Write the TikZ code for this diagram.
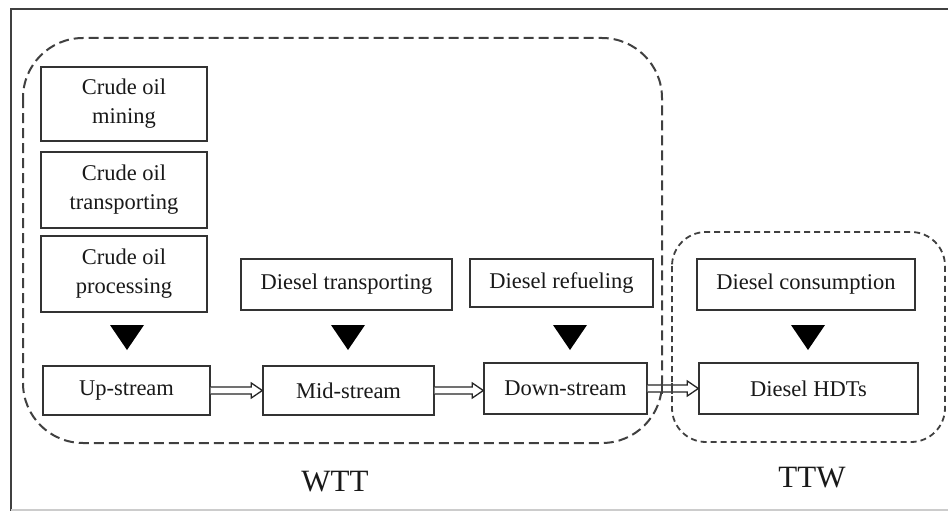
\documentclass[tikz,border=0pt]{standalone}
\usepackage{fontspec}
\setmainfont{Liberation Serif}
\usetikzlibrary{calc}
\newcommand\hollowarrow[2]{%
  \path (#1) coordinate (ha-s) (#1 -| #2) coordinate (ha-e);
  \draw[harrow] ($(ha-s)+(0,-3.5)$) -- ($(ha-e)+(-11,-3.5)$) -- ($(ha-e)+(-11,-7.5)$)
    -- (ha-e) -- ($(ha-e)+(-11,7.5)$) -- ($(ha-e)+(-11,3.5)$) -- ($(ha-s)+(0,3.5)$);
}
\begin{document}
\begin{tikzpicture}[x=1pt,y=-1pt,
  box/.style={draw=black!80, line width=1.4pt, fill=white, align=center, inner sep=0pt,
    font=\fontsize{22.5}{29}\selectfont, text=black!90},
  harrow/.style={draw=black!85, fill=white, line width=1.3pt, line join=miter},
  tri/.style={fill=black},
  wttline/.style={draw=black!75, line width=2pt, dash pattern=on 10pt off 5pt, rounded corners=60pt},
  ttwline/.style={draw=black!75, line width=1.8pt, dash pattern=on 6pt off 4pt, rounded corners=34pt},
  lab/.style={font=\fontsize{31}{33}\selectfont, text=black!90}]
\useasboundingbox (0,0) rectangle (948,511);
\fill[white] (0,0) rectangle (948,511);
% frame
\draw[black!75, line width=2.2pt] (11,511) -- (11,9) -- (948,9);
\draw[black!20, line width=1.2pt] (11,510) -- (948,510);
% group outlines
\draw[wttline] (23,38) rectangle (662,443);
\draw[ttwline] (672,232) rectangle (945,442);
% boxes
\node[box, minimum width=166pt, minimum height=74pt] (mining) at (124,104) {Crude oil\\mining};
\node[box, minimum width=166pt, minimum height=76pt] (ctrans) at (124,190) {Crude oil\\transporting};
\node[box, minimum width=166pt, minimum height=76pt] (proc) at (124,274) {Crude oil\\processing};
\node[box, minimum width=211pt, minimum height=51pt] (dtrans) at (346.5,284.5) {Diesel transporting};
\node[box, minimum width=183pt, minimum height=48pt] (drefuel) at (561.5,283) {Diesel refueling};
\node[box, minimum width=218pt, minimum height=51pt] (dcons) at (806,284.5) {Diesel consumption};
\node[box, minimum width=167pt, minimum height=49pt] (up) at (126.5,390.5) {Up-stream};
\node[box, minimum width=171pt, minimum height=49pt] (mid) at (348.5,390.5) {Mid-stream};
\node[box, minimum width=163pt, minimum height=51pt] (down) at (565.5,388.5) {Down-stream};
\node[box, minimum width=219pt, minimum height=51pt] (hdt) at (808.5,388.5) {Diesel HDTs};
% triangles
\foreach \cx in {127,348,570,808}{
  \fill[tri] (\cx-17,325) -- (\cx+17,325) -- (\cx,350) -- cycle;
}
% hollow arrows
\hollowarrow{up.east}{mid.west}
\hollowarrow{mid.east}{down.west}
\hollowarrow{down.east}{hdt.west}
% redraw group edges over the last arrow
\draw[draw=black!75, line width=2pt] (662,383) -- (662,394);
\draw[draw=black!75, line width=1.8pt] (672,383) -- (672,394);
% labels
\node[lab] (wtt) at (335,482) {WTT};
\node[lab] (ttw) at (812,478) {TTW};
\end{tikzpicture}
\end{document}
